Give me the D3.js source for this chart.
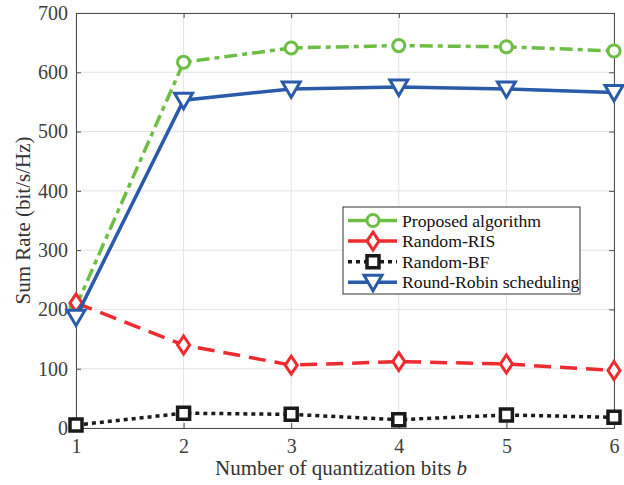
<!DOCTYPE html>
<html>
<head>
<meta charset="utf-8">
<script src="https://cdn.jsdelivr.net/npm/d3@7"></script>
<style>
  body { margin: 0; background: #fff; }
  text { font-family: "Liberation Serif", "Times New Roman", serif; }
</style>
</head>
<body>
<div id="chart"></div>
<script>
// quantization bits on the x axis
const bits = [1, 2, 3, 4, 5, 6];
const proposed = [205, 617, 641, 645, 643, 636];
const randomRIS = [211, 140, 106, 112, 108, 97];
const randomBF = [5, 25, 23, 14, 22, 18];
const roundRobin = [187, 553, 572, 575, 572, 566];
const yTicks = [0, 100, 200, 300, 400, 500, 600, 700];

const margin = {top: 13, right: 10, bottom: 57, left: 76};
const W = 624, H = 485;
const width = W - margin.left - margin.right;
const height = H - margin.top - margin.bottom;

const svg = d3.select('#chart').append('svg')
  .attr('width', W).attr('height', H);
const g = svg.append('g')
  .attr('transform', `translate(${margin.left},${margin.top})`);

const x = d3.scaleLinear().domain([1, 6]).range([0, width]);
const y = d3.scaleLinear().domain([0, 700]).range([height, 0]);

// grid
g.append('g').selectAll('line').data(bits).enter().append('line')
  .attr('x1', d => x(d)).attr('x2', d => x(d))
  .attr('y1', 0).attr('y2', height)
  .attr('stroke', '#e3e3e3').attr('stroke-width', 1);
g.append('g').selectAll('line').data(yTicks).enter().append('line')
  .attr('y1', d => y(d)).attr('y2', d => y(d))
  .attr('x1', 0).attr('x2', width)
  .attr('stroke', '#e3e3e3').attr('stroke-width', 1);

// axes
const xAxis = d3.axisBottom(x).tickValues(bits).tickSize(-5).tickPadding(11).tickFormat(d3.format('d'));
const yAxis = d3.axisLeft(y).tickValues(yTicks).tickSize(-5).tickPadding(8);
const xTop = d3.axisTop(x).tickValues(bits).tickSize(-5).tickFormat('');
const yRight = d3.axisRight(y).tickValues(yTicks).tickSize(-5).tickFormat('');

function styleAxis(sel) {
  sel.selectAll('path, line').attr('stroke', '#4d4d4d').attr('stroke-width', 1);
  sel.selectAll('text').attr('fill', '#404040')
    .attr('font-family', 'Liberation Serif').attr('font-size', 20);
}
g.append('g').attr('transform', `translate(0,${height})`).call(xAxis).call(styleAxis);
g.append('g').call(yAxis).call(styleAxis);
g.append('g').call(xTop).call(styleAxis);
g.append('g').attr('transform', `translate(${width},0)`).call(yRight).call(styleAxis);

// series
const series = [
  {name: 'Proposed algorithm', vals: proposed, color: '#6dbe45', dash: '13,5,5,5', marker: 'circle'},
  {name: 'Random-RIS', vals: randomRIS, color: '#ee2b2e', dash: '17,9', marker: 'diamond'},
  {name: 'Random-BF', vals: randomBF, color: '#1a1a1a', dash: '4,4', marker: 'square'},
  {name: 'Round-Robin scheduling', vals: roundRobin, color: '#2a5ba8', dash: null, marker: 'triangle'}
];

const line = d3.line().x((d, i) => x(bits[i])).y(d => y(d));

function markerPath(type) {
  if (type === 'circle') return d3.symbol(d3.symbolCircle, 115)();
  if (type === 'diamond') return 'M0,-9L6,0L0,9L-6,0Z';
  if (type === 'square') return 'M-6,-6L6,-6L6,6L-6,6Z';
  return 'M-9,-7L9,-7L0,8.5Z';
}

function drawMarker(sel, s, px, py) {
  sel.append('path')
    .attr('d', markerPath(s.marker))
    .attr('transform', `translate(${px},${py})`)
    .attr('fill', '#fff')
    .attr('stroke', s.color)
    .attr('stroke-width', s.marker === 'square' ? 3.5 : 3);
}

series.forEach(s => {
  g.append('path').datum(s.vals)
    .attr('d', line)
    .attr('fill', 'none')
    .attr('stroke', s.color)
    .attr('stroke-width', 3.5)
    .attr('stroke-dasharray', s.dash);
  s.vals.forEach((v, i) => drawMarker(g, s, x(bits[i]), y(v)));
});

// legend
const lg = svg.append('g').attr('transform', 'translate(343,207)');
lg.append('rect').attr('width', 237).attr('height', 87)
  .attr('fill', '#fff').attr('stroke', '#333').attr('stroke-width', 1);
series.forEach((s, i) => {
  const ly = 13.5 + i * 20.6;
  lg.append('line').attr('x1', 5).attr('x2', 54).attr('y1', ly).attr('y2', ly)
    .attr('stroke', s.color).attr('stroke-width', 3.5)
    .attr('stroke-dasharray', s.marker === 'square' ? '4,4' : null);
  drawMarker(lg, s, 30, ly);
  lg.append('text').attr('x', 59).attr('y', ly + 6)
    .attr('font-size', 17.7).attr('fill', '#111').text(s.name);
});

// axis labels
svg.append('text')
  .attr('x', margin.left + width / 2 - 4).attr('y', 475)
  .attr('text-anchor', 'middle').attr('font-size', 21).attr('fill', '#333')
  .html('Number of quantization bits <tspan font-style="italic">b</tspan>');
svg.append('text')
  .attr('transform', `translate(30,${margin.top + height / 2}) rotate(-90)`)
  .attr('text-anchor', 'middle').attr('font-size', 21).attr('fill', '#333')
  .text('Sum Rate (bit/s/Hz)');
</script>
</body>
</html>
